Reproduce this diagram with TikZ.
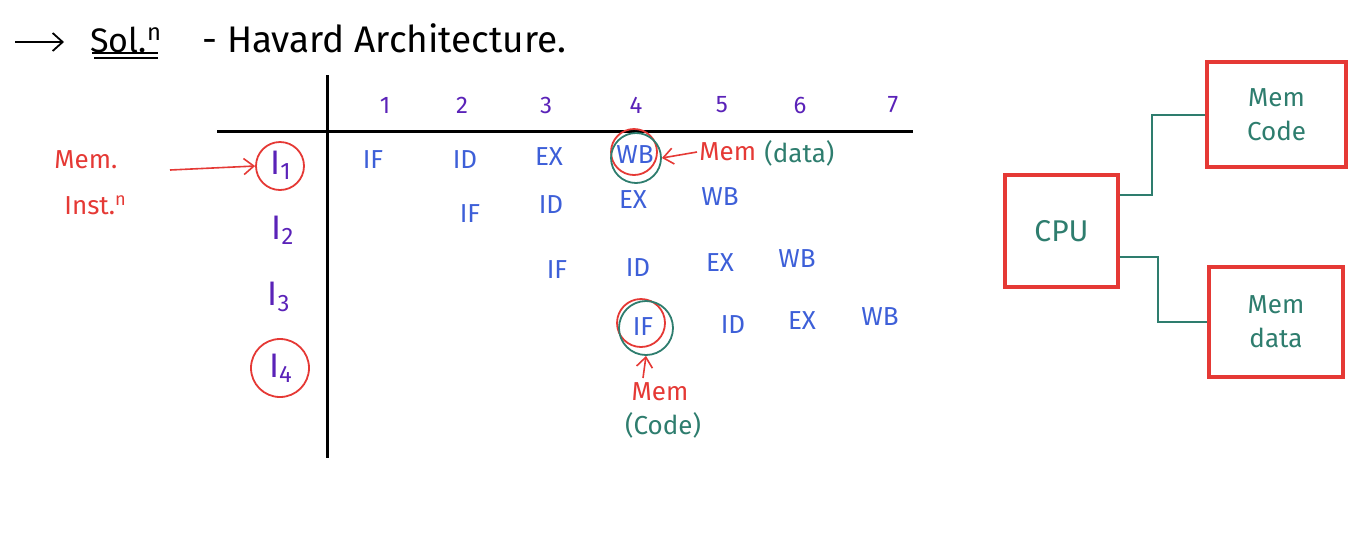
\documentclass[tikz,border=0pt]{standalone}
\usepackage{fontspec}
\setmainfont{Fira Sans}
\usetikzlibrary{arrows.meta}
\definecolor{hred}{HTML}{E53935}
\definecolor{hblue}{HTML}{3D5FD8}
\definecolor{hpurple}{HTML}{5A22B8}
\definecolor{hgreen}{HTML}{2E7D6E}
\tikzset{
  stage/.style={text=hblue,font=\fontsize{13}{15}\selectfont,inner sep=1pt},
  colnum/.style={text=hpurple,font=\fontsize{12}{14}\selectfont,inner sep=1pt},
  rowlbl/.style={text=hpurple,font=\fontsize{17}{19}\selectfont,inner sep=1pt},
  redtxt/.style={text=hred,font=\fontsize{13}{15}\selectfont,inner sep=1pt},
  grntxt/.style={text=hgreen,font=\fontsize{13}{15}\selectfont,inner sep=1pt},
  redring/.style={circle,draw=hred,line width=0.9pt,inner sep=0pt},
  grnring/.style={circle,draw=hgreen,line width=0.9pt,inner sep=0pt},
  redarrow/.style={draw=hred,line width=0.8pt,-{Straight Barb[length=5pt,width=8pt]}},
  membox/.style={draw=hred,line width=1.6pt,align=center,text=hgreen,font=\fontsize{13}{17}\selectfont},
  bus/.style={draw=hgreen,line width=1pt},
  axis/.style={draw=black,line width=1.5pt}
}
\begin{document}
\begin{tikzpicture}[x=0.5pt,y=-0.5pt]
\useasboundingbox (0,0) rectangle (1371,532);
% title
\coordinate (ta) at (15,42); \coordinate (tb) at (64,42);
\draw[line width=0.9pt,-{Straight Barb[length=5pt,width=9pt]}] (ta) -- (tb);
\node[font=\fontsize{17}{20}\selectfont,inner sep=1pt,anchor=west] (sol) at (88,40) {Sol.\textsuperscript{n}};
\coordinate (ul1) at (92,53); \coordinate (ul1e) at (158,53);
\coordinate (ul2) at (94,58); \coordinate (ul2e) at (158,58);
\draw[line width=0.9pt] (ul1) -- (ul1e);
\draw[line width=0.9pt] (ul2) -- (ul2e);
\node[font=\fontsize{18.5}{20}\selectfont,inner sep=1pt,anchor=west] (title) at (200,38) {- Havard Architecture.};
% axes
\coordinate (vtop) at (327,75); \coordinate (vbot) at (327,458);
\coordinate (hl) at (217,131); \coordinate (hr) at (913,131);
\draw[axis] (vtop) -- (vbot);
\draw[axis] (hl) -- (hr);
% column numbers
\foreach \n/\x in {1/385,2/462,3/546,4/636,5/722,6/800,7/893}
  \node[colnum] (col\n) at (\x,105) {\n};
% row labels
\node[rowlbl] (I1) at (281,165) {I\textsubscript{1}};
\node[rowlbl] (I2) at (283,230) {I\textsubscript{2}};
\node[rowlbl] (I3) at (279,297) {I\textsubscript{3}};
\node[rowlbl] (I4) at (281,368) {I\textsubscript{4}};
\node[redring,minimum size=24pt] (cI1) at (280,166) {};
\node[redring,minimum size=29pt] (cI4) at (280,368) {};
% pipeline stages
\node[stage] (s11) at (373,160) {IF};
\node[stage] (s12) at (465,160) {ID};
\node[stage] (s13) at (549,157) {EX};
\node[stage] (s14) at (635,155) {WB};
\node[stage] (s21) at (470,214) {IF};
\node[stage] (s22) at (551,205) {ID};
\node[stage] (s23) at (633,200) {EX};
\node[stage] (s24) at (720,197) {WB};
\node[stage] (s31) at (557,270) {IF};
\node[stage] (s32) at (638,268) {ID};
\node[stage] (s33) at (720,263) {EX};
\node[stage] (s34) at (797,259) {WB};
\node[stage] (s41) at (643,327) {IF};
\node[stage] (s42) at (733,325) {ID};
\node[stage] (s43) at (802,321) {EX};
\node[stage] (s44) at (880,317) {WB};
% rings around WB and IF
\node[redring,minimum size=23pt] (rwb) at (634,152) {};
\node[grnring,minimum size=25pt] (gwb) at (636,158) {};
\node[redring,minimum size=24pt] (rif) at (641,323) {};
\node[grnring,minimum size=27pt] (gif) at (646,328) {};
% Mem (data) annotation
\node[redtxt,anchor=west] (memd) at (697,152) {Mem};
\node[grntxt,anchor=west] (datal) at (762,153) {(data)};
\draw[redarrow] (memd.west) -- (gwb.east);
% Mem. Inst^n
\node[redtxt,anchor=west] (memi) at (52,160) {Mem.};
\node[redtxt,anchor=west] (insti) at (62,205) {Inst.\textsuperscript{n}};
\coordinate (ai) at (170,170);
\draw[redarrow] (ai) -- (cI1.west);
% Mem (Code)
\node[redtxt] (memc) at (660,392) {Mem};
\node[grntxt] (codel) at (663,425) {(Code)};
\coordinate (ac) at (643,378);
\draw[redarrow] (ac) -- (gif.south);
% right side
\node[membox,minimum width=56.5pt,minimum height=56pt,font=\fontsize{15}{17}\selectfont] (cpu) at (1061.5,231) {CPU};
\node[membox,minimum width=69.5pt,minimum height=52.5pt] (memcode) at (1276.5,114.5) {Mem\\Code};
\node[membox,minimum width=67pt,minimum height=55pt] (memdata) at (1276,322) {Mem\\data};
\draw[bus] ([yshift=-11pt]cpu.north east) -- ++(32,0) |- (memcode.west);
\draw[bus] ([yshift=16pt]cpu.south east) -- ++(38,0) |- (memdata.west);
\end{tikzpicture}
\end{document}
